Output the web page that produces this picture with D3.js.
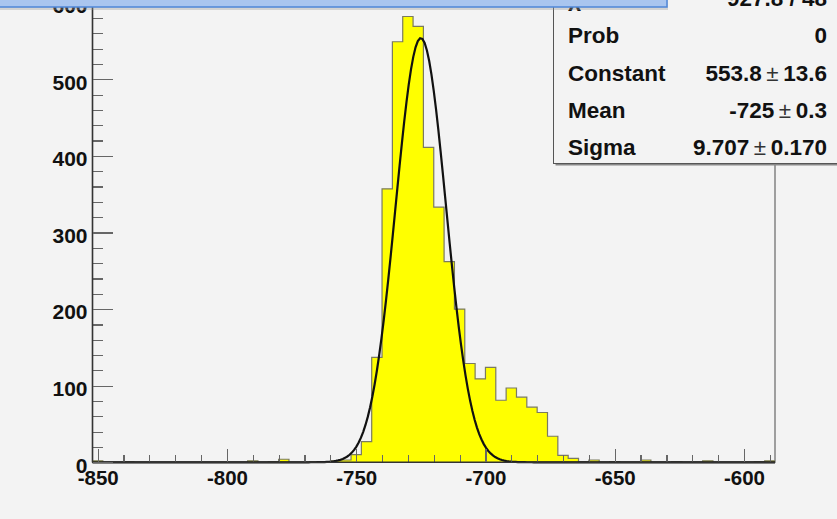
<!DOCTYPE html>
<html>
<head>
<meta charset="utf-8">
<script src="https://cdn.jsdelivr.net/npm/d3@7"></script>
<style>
  html, body { margin: 0; padding: 0; background: #f3f3f3; }
  svg { display: block; font-family: "Liberation Sans", Arial, Helvetica, sans-serif; font-weight: bold; }
  .axis path.domain { stroke: #333; stroke-width: 1.5px; }
  .axis line { stroke: #666; stroke-width: 1.2px; shape-rendering: crispEdges; }
  .axis text { fill: #111; }
</style>
</head>
<body>
<div id="chart"></div>
<script>
// histogram: 66 bins of width 4 starting at -852
const BIN_LOW = -852;
const BIN_WIDTH = 4;
const counts = [
  2, 0, 0, 1, 0, 0, 0, 0, 0, 0,
  0, 0, 0, 0, 0, 2, 0, 1, 4, 0,
  0, 1, 1, 2, 3, 10, 27, 137, 357, 549,
  582, 569, 411, 333, 262, 200, 129, 109, 124, 81,
  97, 85, 72, 65, 34, 9, 5, 1, 3, 0,
  1, 0, 0, 3, 0, 0, 1, 0, 0, 2,
  0, 0, 0, 0, 1, 2
];

const xTicks = [-850, -800, -750, -700, -650, -600];
const xMinorTicks = d3.range(-850, -585, 10).filter(d => d % 50 !== 0);
const yTicks = [0, 100, 200, 300, 400, 500, 600];
const yMinorTicks = d3.range(0, 620, 20).filter(d => d % 100 !== 0);

// gaussian fit result shown in the stats box
const fitConstant = 553.8;
const fitMean = -725;
const fitSigma = 9.707;
const statNames = ['\u03C7\u00B2 / ndf', 'Prob', 'Constant', 'Mean', 'Sigma'];
const statValues = [['927.8 / 48'], ['0'], ['553.8', '13.6'], ['-725', '0.3'], ['9.707', '0.170']];

const W = 837, H = 519;
const frame = { left: 92.5, right: 775, top: -6, bottom: 462.3 };
const xMax = BIN_LOW + BIN_WIDTH * counts.length;

const x = d3.scaleLinear().domain([BIN_LOW, xMax]).range([frame.left, frame.right]);
const y = d3.scaleLinear().domain([0, 600]).range([frame.bottom, 2.7]);

const svg = d3.select('#chart').append('svg').attr('width', W).attr('height', H);

svg.append('rect').attr('width', W).attr('height', H).attr('fill', '#f3f3f3');

// frame
svg.append('rect')
  .attr('x', frame.left).attr('y', frame.top)
  .attr('width', frame.right - frame.left).attr('height', frame.bottom - frame.top)
  .attr('fill', '#f3f3f3').attr('stroke', '#666').attr('stroke-width', 1.2);

// histogram steps
const steps = [];
counts.forEach((c, i) => {
  const lo = BIN_LOW + i * BIN_WIDTH;
  steps.push([lo, c], [lo + BIN_WIDTH, c]);
});

const histArea = d3.area().x(d => x(d[0])).y0(y(0)).y1(d => y(d[1]));
const histLine = d3.line().x(d => x(d[0])).y(d => y(d[1]));

svg.append('path').attr('d', histArea(steps)).attr('fill', '#ffff00');
svg.append('path').attr('d', histLine(steps)).attr('fill', 'none')
  .attr('stroke', '#7a7a60').attr('stroke-width', 1.2);

// fit curve
const fitPts = d3.range(BIN_LOW, xMax + 0.01, (xMax - BIN_LOW) / 300)
  .map(v => [v, fitConstant * Math.exp(-0.5 * Math.pow((v - fitMean) / fitSigma, 2))]);
svg.append('path').attr('d', histLine(fitPts)).attr('fill', 'none')
  .attr('stroke', '#111').attr('stroke-width', 2.2);

// axes
svg.append('g').attr('class', 'x axis minor')
  .attr('transform', `translate(0,${frame.bottom})`)
  .call(d3.axisBottom(x).tickValues(xMinorTicks).tickSize(-7).tickFormat(''))
  .call(g => g.select('.domain').remove());

svg.append('g').attr('class', 'x axis')
  .attr('transform', `translate(0,${frame.bottom})`)
  .call(d3.axisBottom(x).tickValues(xTicks).tickSize(-13).tickPadding(8).tickFormat(d => String(d)))
  .call(g => g.select('.domain').attr('d', `M${frame.left},0H${frame.right}`))
  .attr('font-size', '20.5px').attr('font-family', null);

svg.append('g').attr('class', 'y axis minor')
  .attr('transform', `translate(${frame.left},0)`)
  .call(d3.axisLeft(y).tickValues(yMinorTicks).tickSize(-10).tickFormat(''))
  .call(g => g.select('.domain').remove());

svg.append('g').attr('class', 'y axis')
  .attr('transform', `translate(${frame.left},0)`)
  .call(d3.axisLeft(y).tickValues(yTicks).tickSize(-20).tickPadding(5).tickFormat(d => String(d)))
  .call(g => g.select('.domain').attr('d', `M0,${frame.bottom}V-10`))
  .call(g => g.selectAll('.tick text').attr('dy', '0.47em'))
  .attr('font-size', '21px').attr('font-family', null);

// stats box
const box = { x: 553.5, y: -40, w: 320, bottom: 163.5 };
svg.append('rect')
  .attr('x', box.x + 2).attr('y', box.y + 2).attr('width', box.w).attr('height', box.bottom - box.y)
  .attr('fill', '#888');
svg.append('rect')
  .attr('x', box.x).attr('y', box.y).attr('width', box.w).attr('height', box.bottom - box.y)
  .attr('fill', '#f3f3f3').attr('stroke', '#555').attr('stroke-width', 1);

const rowY = d3.scaleLinear().domain([0, 4]).range([6, 155]);
svg.append('g').selectAll('text').data(statNames).join('text')
  .attr('x', 568).attr('y', (d, i) => rowY(i))
  .attr('font-size', '22.5px').attr('fill', '#111')
  .text(d => d);

const valText = svg.append('g').selectAll('text').data(statValues).join('text')
  .attr('x', 827).attr('y', (d, i) => rowY(i)).attr('text-anchor', 'end')
  .attr('font-size', '22.5px').attr('fill', '#111');
valText.each(function (d) {
  const t = d3.select(this);
  t.append('tspan').text(d[0]);
  if (d.length > 1) {
    t.append('tspan').attr('font-weight', 'normal').attr('fill', '#333').text('\u2009\u00B1\u2009');
    t.append('tspan').text(d[1]);
  }
});

// blue title strip cut at the top edge
svg.append('rect').attr('x', -4).attr('y', -20).attr('width', 672).attr('height', 30)
  .attr('fill', '#999').attr('opacity', 0.35);
svg.append('rect').attr('x', -5).attr('y', -20).attr('width', 672).attr('height', 27)
  .attr('fill', '#a9c5ef').attr('stroke', '#4f86d8').attr('stroke-width', 1.5);
</script>
</body>
</html>
